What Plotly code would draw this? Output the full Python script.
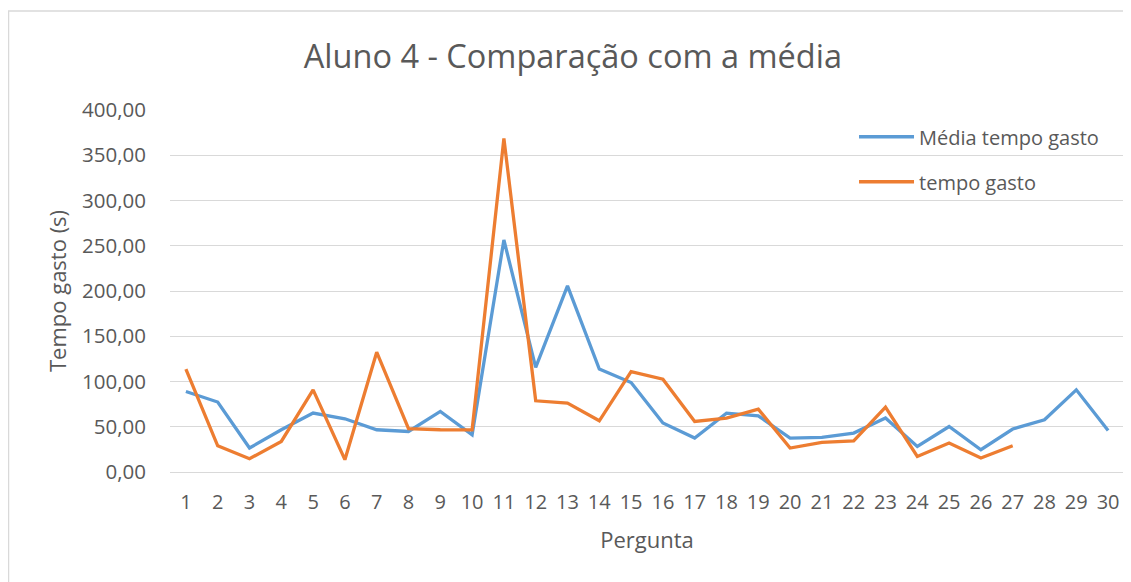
import plotly.graph_objects as go

perguntas = list(range(1, 31))
media_tempo = [89.0, 77.3, 26.5, 46.7, 65.1, 58.8, 46.7, 44.8, 66.9, 41.2,
               256.4, 115.5, 205.6, 113.7, 98.9, 54.1, 37.5, 65.1, 62.1, 37.5,
               38.2, 43.0, 59.6, 28.3, 50.3, 24.6, 47.5, 57.7, 90.8, 45.9]
tempo_gasto = [113.7, 29.0, 14.7, 33.8, 90.8, 13.6, 132.4, 47.8, 46.7, 46.5,
               368.6, 78.7, 76.2, 56.6, 111.0, 102.6, 55.8, 59.6, 69.5, 26.5,
               32.7, 34.5, 71.7, 17.2, 32.0, 15.5, 29.0, None, None, None]

FONT = "Open Sans"
GREY = "#595959"

fig = go.Figure()
fig.add_trace(go.Scatter(x=perguntas, y=media_tempo, mode="lines",
                         name="Média tempo gasto", legendgroup="a",
                         line=dict(color="#5b9bd5", width=3.3)))
fig.add_trace(go.Scatter(x=perguntas, y=tempo_gasto, mode="lines",
                         name="tempo gasto", legendgroup="b",
                         line=dict(color="#ed7d31", width=3.3)))

fig.update_layout(
    width=1123, height=574,
    margin=dict(l=162, r=7, t=102, b=110),
    paper_bgcolor="white", plot_bgcolor="white",
    font=dict(family=FONT, color=GREY, size=20),
    separators=",.",
    title=dict(text="Aluno 4 - Comparação com a média", x=0.503, xref="container",
               xanchor="center", y=0.9146, yref="container", yanchor="middle",
               font=dict(family=FONT, size=32.5, color=GREY)),
    xaxis=dict(range=[0.5, 30.5], tickmode="array", tickvals=perguntas,
               ticktext=[str(p) for p in perguntas], showgrid=False,
               showline=False, zeroline=False, ticks="", ticklabelstandoff=16,
               tickfont=dict(size=20, color=GREY),
               title=dict(text="Pergunta", font=dict(size=22, color=GREY), standoff=18)),
    yaxis=dict(range=[0, 400], dtick=50, tickformat=".2f", showgrid=True,
               gridcolor="#d9d9d9", gridwidth=1, zeroline=True, zerolinecolor="#d9d9d9",
               zerolinewidth=1, showline=False, ticks="", ticklabelstandoff=23,
               tickfont=dict(size=20.5, color=GREY),
               title=dict(text="Tempo gasto (s)", font=dict(size=22, color=GREY), standoff=9)),
    legend=dict(x=0.717, y=0.98, xanchor="left", yanchor="top",
                bgcolor="rgba(0,0,0,0)", font=dict(size=20, color=GREY),
                itemwidth=55, tracegroupgap=16, traceorder="grouped"),
    shapes=[dict(type="rect", xref="paper", yref="paper",
                 x0=-0.1693, x1=1.02, y0=-0.35, y1=1.2733,
                 line=dict(color="#d9d9d9", width=1.5), fillcolor="rgba(0,0,0,0)",
                 layer="below")],
)

fig.write_html("out.html")
